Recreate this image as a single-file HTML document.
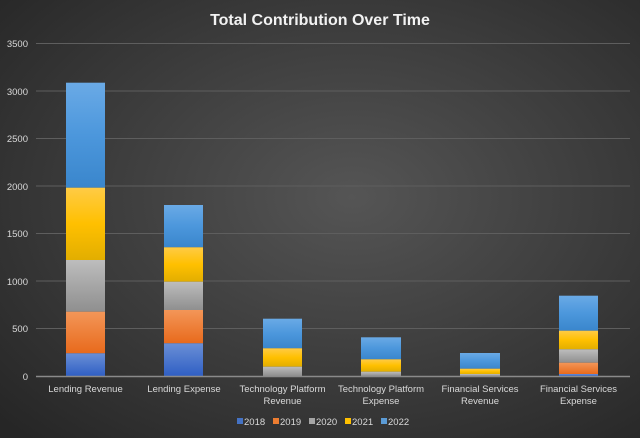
<!DOCTYPE html>
<html><head><style>
html,body{margin:0;padding:0;background:#333}
svg{display:block}
text{font-family:"Liberation Sans",sans-serif;fill:#d9d9d9}
</style></head><body>
<svg width="640" height="438" viewBox="0 0 640 438">
<defs>
<radialGradient id="bg" cx="55%" cy="45%" r="75%">
<stop offset="0" stop-color="#555"/><stop offset="1" stop-color="#262626"/></radialGradient>
<linearGradient id="g18" x1="0" y1="0" x2="0" y2="1"><stop offset="0" stop-color="#6a8fd6"/><stop offset="1" stop-color="#2f5fc4"/></linearGradient>
<linearGradient id="g19" x1="0" y1="0" x2="0" y2="1"><stop offset="0" stop-color="#f39658"/><stop offset="1" stop-color="#e86a1c"/></linearGradient>
<linearGradient id="g20" x1="0" y1="0" x2="0" y2="1"><stop offset="0" stop-color="#bdbdbd"/><stop offset="1" stop-color="#8f8f8f"/></linearGradient>
<linearGradient id="g21" x1="0" y1="0" x2="0" y2="1"><stop offset="0" stop-color="#ffcb45"/><stop offset="0.5" stop-color="#ffc000"/><stop offset="1" stop-color="#e2ae00"/></linearGradient>
<linearGradient id="g22" x1="0" y1="0" x2="0" y2="1"><stop offset="0" stop-color="#6aaae6"/><stop offset="0.5" stop-color="#4c97dc"/><stop offset="1" stop-color="#3a86cc"/></linearGradient>
</defs>
<rect width="640" height="438" fill="url(#bg)"/>
<text x="320" y="25" text-anchor="middle" font-size="16" font-weight="bold" style="fill:#f2f2f2">Total Contribution Over Time</text>
<g stroke="#5e5e5e" stroke-width="1">
<line x1="36" y1="43.5" x2="630" y2="43.5"/><line x1="36" y1="91" x2="630" y2="91"/>
<line x1="36" y1="138.5" x2="630" y2="138.5"/><line x1="36" y1="186" x2="630" y2="186"/>
<line x1="36" y1="233.5" x2="630" y2="233.5"/><line x1="36" y1="281" x2="630" y2="281"/>
<line x1="36" y1="328.5" x2="630" y2="328.5"/>
</g>
<g font-size="9.5" text-anchor="end">
<text x="28" y="47">3500</text><text x="28" y="95">3000</text><text x="28" y="142">2500</text>
<text x="28" y="190">2000</text><text x="28" y="237">1500</text><text x="28" y="285">1000</text>
<text x="28" y="332">500</text><text x="28" y="380">0</text>
</g>
<g>
<rect x="66" y="82.7" width="39" height="105" fill="url(#g22)"/>
<rect x="66" y="187.7" width="39" height="72.3" fill="url(#g21)"/>
<rect x="66" y="260" width="39" height="51.7" fill="url(#g20)"/>
<rect x="66" y="311.7" width="39" height="41.6" fill="url(#g19)"/>
<rect x="66" y="353.3" width="39" height="22.7" fill="url(#g18)"/>
<rect x="164" y="205" width="39" height="42.3" fill="url(#g22)"/>
<rect x="164" y="247.3" width="39" height="34.4" fill="url(#g21)"/>
<rect x="164" y="281.7" width="39" height="28.3" fill="url(#g20)"/>
<rect x="164" y="310" width="39" height="33.3" fill="url(#g19)"/>
<rect x="164" y="343.3" width="39" height="32.7" fill="url(#g18)"/>
<rect x="263" y="318.7" width="39" height="29.6" fill="url(#g22)"/>
<rect x="263" y="348.3" width="39" height="18.4" fill="url(#g21)"/>
<rect x="263" y="366.7" width="39" height="9.3" fill="url(#g20)"/>
<rect x="361" y="337.3" width="40" height="22" fill="url(#g22)"/>
<rect x="361" y="359.3" width="40" height="12.4" fill="url(#g21)"/>
<rect x="361" y="371.7" width="40" height="4.3" fill="url(#g20)"/>
<rect x="460" y="353" width="40" height="15.7" fill="url(#g22)"/>
<rect x="460" y="368.7" width="40" height="5.3" fill="url(#g21)"/>
<rect x="460" y="374" width="40" height="2" fill="url(#g20)"/>
<rect x="559" y="295.7" width="39" height="35" fill="url(#g22)"/>
<rect x="559" y="330.7" width="39" height="18.6" fill="url(#g21)"/>
<rect x="559" y="349.3" width="39" height="13.4" fill="url(#g20)"/>
<rect x="559" y="362.7" width="39" height="11.3" fill="url(#g19)"/>
<rect x="559" y="374" width="39" height="2" fill="url(#g18)"/>
</g>
<line x1="36" y1="376.5" x2="630" y2="376.5" stroke="#8a8a8a" stroke-width="1.5"/>
<g font-size="9.5" text-anchor="middle">
<text x="85.5" y="392">Lending Revenue</text>
<text x="184" y="392">Lending Expense</text>
<text x="282.5" y="392">Technology Platform</text><text x="282.5" y="404">Revenue</text>
<text x="381" y="392">Technology Platform</text><text x="381" y="404">Expense</text>
<text x="480" y="392">Financial Services</text><text x="480" y="404">Revenue</text>
<text x="578.5" y="392">Financial Services</text><text x="578.5" y="404">Expense</text>
</g>
<g font-size="9.5">
<rect x="237" y="418" width="6" height="6" fill="#4472c4"/><text x="244" y="425">2018</text>
<rect x="273" y="418" width="6" height="6" fill="#ed7d31"/><text x="280" y="425">2019</text>
<rect x="309" y="418" width="6" height="6" fill="#a5a5a5"/><text x="316" y="425">2020</text>
<rect x="345" y="418" width="6" height="6" fill="#ffc000"/><text x="352" y="425">2021</text>
<rect x="381" y="418" width="6" height="6" fill="#5b9bd5"/><text x="388" y="425">2022</text>
</g>
</svg>
</body></html>
